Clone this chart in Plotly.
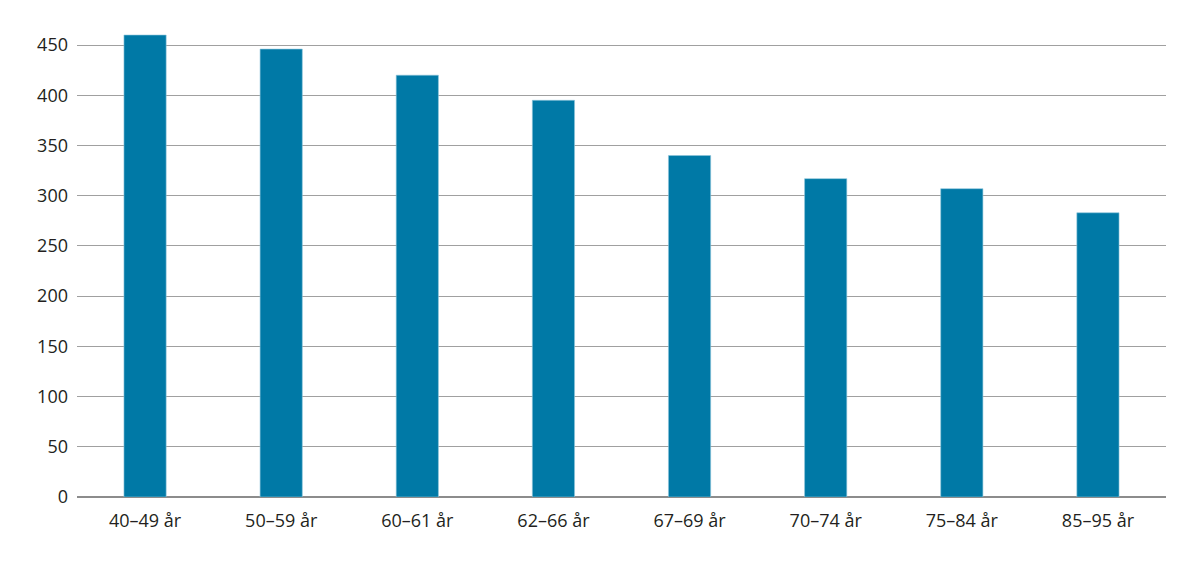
import plotly.graph_objects as go

categories = ["40–49 år", "50–59 år", "60–61 år", "62–66 år",
              "67–69 år", "70–74 år", "75–84 år", "85–95 år"]
values = [460, 446, 420, 395, 340, 317, 307, 283]
y_ticks = [0, 50, 100, 150, 200, 250, 300, 350, 400, 450]

fig = go.Figure(
    go.Bar(
        x=categories,
        y=values,
        marker={"color": "#0079a6", "line": {"color": "#8fc6dc", "width": 0.6}},
        hovertemplate="%{x}: %{y}<extra></extra>",
    )
)
# page body has an 8px margin, so the figure is a bit smaller than the window
fig.update_layout(
    width=1192,
    height=561,
    bargap=0.69,
    plot_bgcolor="white",
    paper_bgcolor="white",
    showlegend=False,
    font={"family": "Open Sans, Noto Sans, sans-serif", "size": 18, "color": "#231f20"},
    margin={"l": 69, "r": 34, "t": 22, "b": 72},
)
fig.update_yaxes(
    range=[0, 465],
    tickvals=y_ticks,
    showgrid=True,
    gridcolor="#a0a0a0",
    gridwidth=1,
    zeroline=True,
    zerolinecolor="#8c8c8c",
    zerolinewidth=1.5,
    ticklabelstandoff=8,
    automargin=False,
)
fig.update_xaxes(
    showgrid=False,
    showline=False,
    ticklabelstandoff=11,
    automargin=False,
)
fig.write_html("out.html")
